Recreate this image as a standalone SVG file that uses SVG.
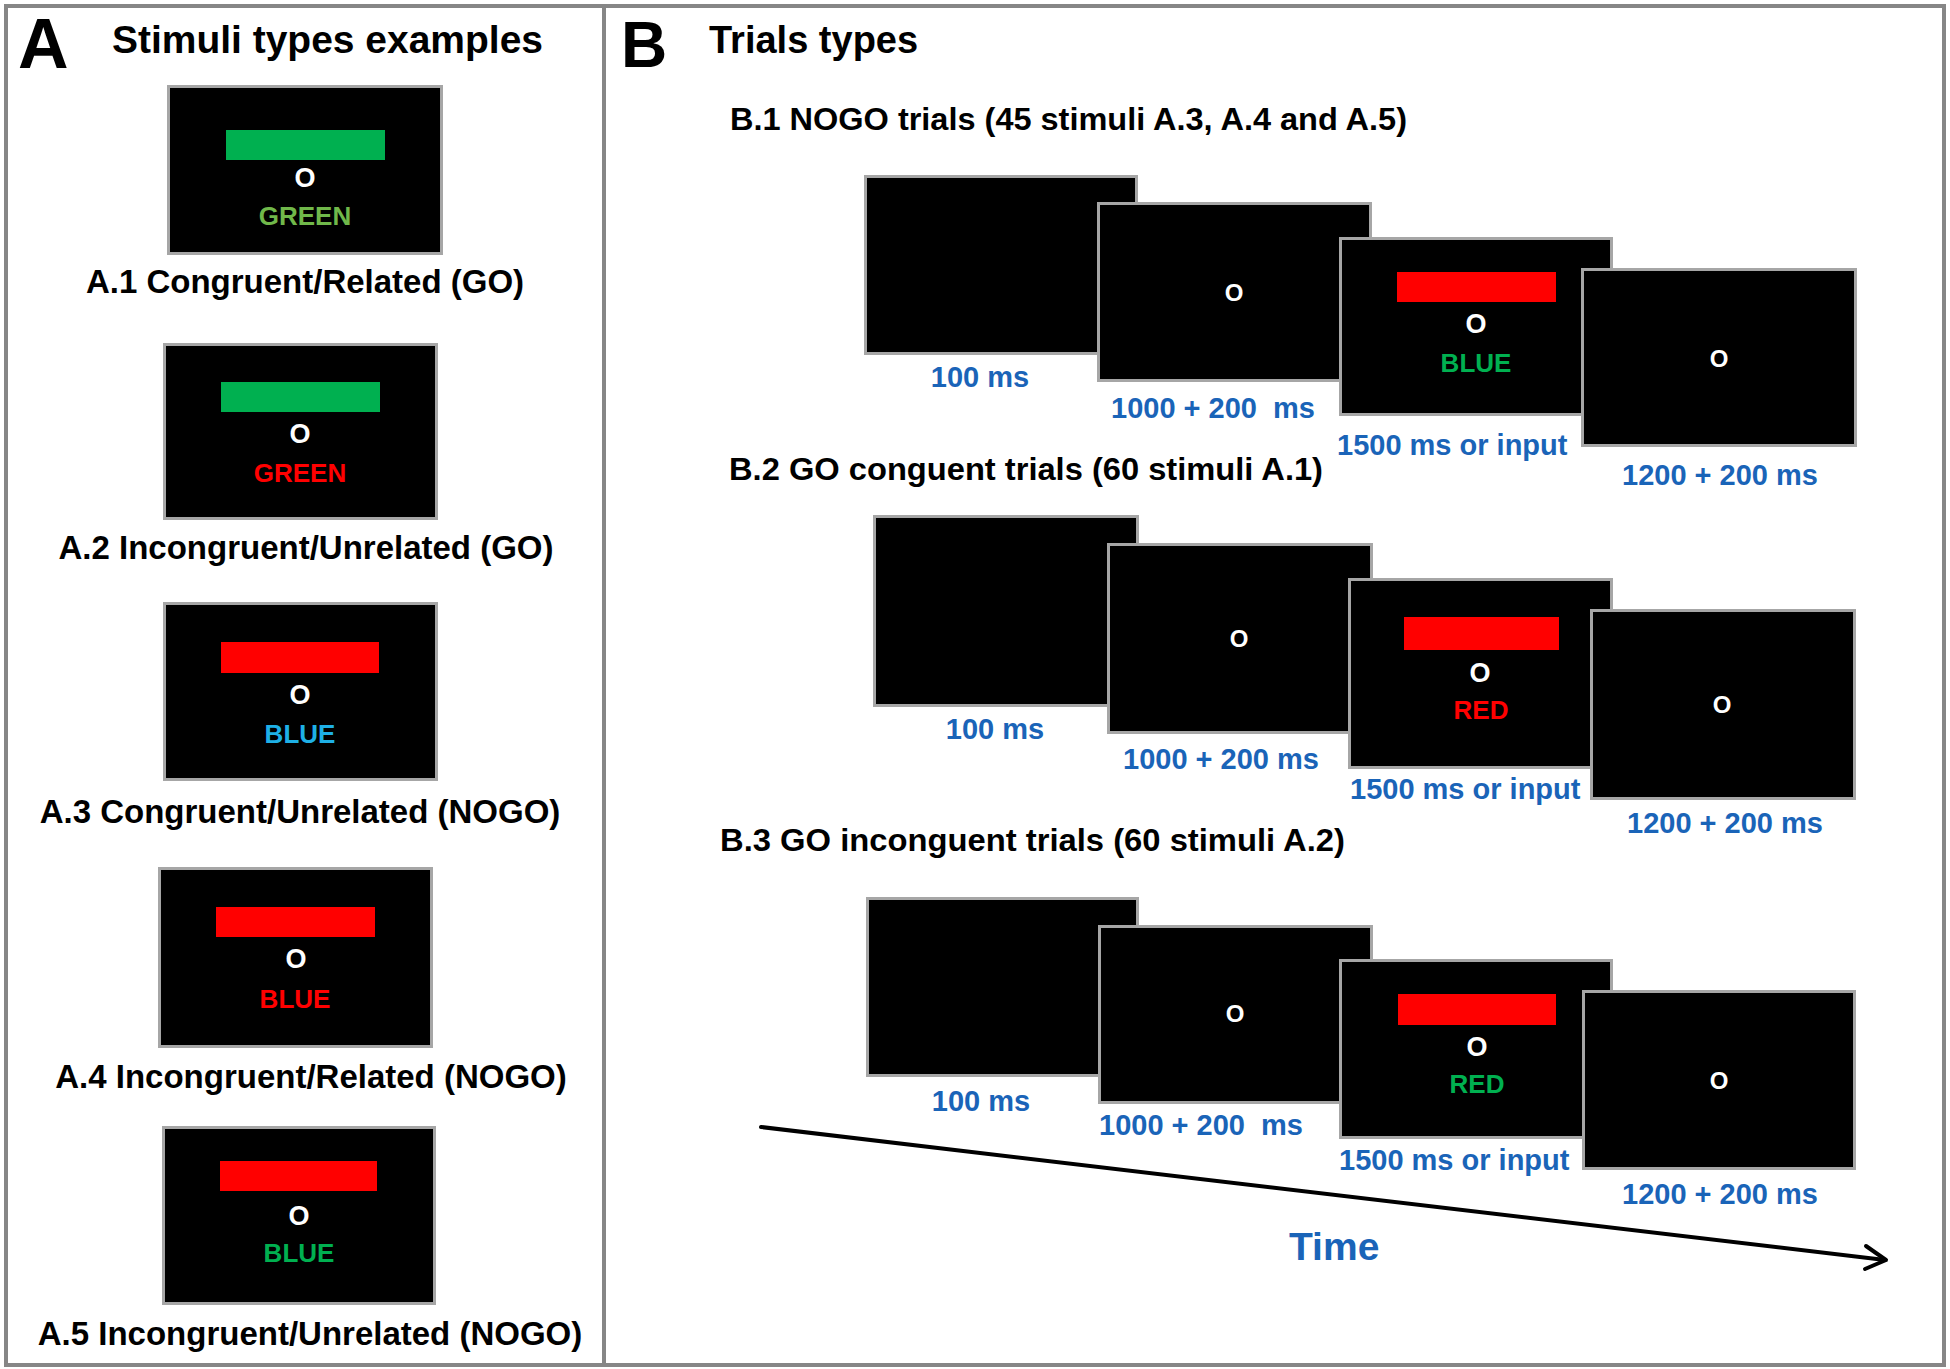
<svg xmlns="http://www.w3.org/2000/svg" width="1950" height="1369" viewBox="0 0 1950 1369">
<style>
text{font-family:"Liberation Sans",Arial,sans-serif;font-weight:bold}
.scr{fill:#000;stroke:#a6a6a6;stroke-width:3}
.frame{fill:none;stroke:#868686;stroke-width:4}
.big{font-size:70px;fill:#000}
.title{font-size:38px;fill:#000}
.alab{font-size:33px;fill:#000;text-anchor:middle}
.blab{font-size:32px;fill:#000}
.dur{font-size:29px;fill:#1a64b8;white-space:pre}
.o{font-size:27px;fill:#fff;text-anchor:middle}
.os{font-size:24px;fill:#fff;text-anchor:middle}
.w{font-size:26px;text-anchor:middle}
.gbar{fill:#00b050}
.rbar{fill:#ff0000}
.arrow{fill:none;stroke:#000;stroke-width:4;stroke-linecap:round;stroke-linejoin:round}
</style>
<rect x="0" y="0" width="1950" height="1369" fill="#fff"/>
<rect class="frame" x="6" y="6" width="1938" height="1359"/>
<line class="frame" x1="604" y1="6" x2="604" y2="1365"/>

<g id="panelA-title">
<text class="big" x="18" y="68">A</text>
<text class="title" x="112" y="53" textLength="431" lengthAdjust="spacingAndGlyphs">Stimuli types examples</text>
</g>

<g id="A1">
<rect class="scr" x="168.5" y="86.5" width="273" height="167"/>
<rect class="gbar" x="226" y="130" width="159" height="30"/>
<text class="o" x="305" y="187">O</text>
<text class="w" x="305" y="225" fill="#70b84a">GREEN</text>
<text class="alab" x="305" y="293">A.1 Congruent/Related (GO)</text>
</g>
<g id="A2">
<rect class="scr" x="164.5" y="344.5" width="272" height="174"/>
<rect class="gbar" x="221" y="382" width="159" height="30"/>
<text class="o" x="300" y="443">O</text>
<text class="w" x="300" y="482" fill="#ff0000">GREEN</text>
<text class="alab" x="306" y="559">A.2 Incongruent/Unrelated (GO)</text>
</g>
<g id="A3">
<rect class="scr" x="164.5" y="603.5" width="272" height="176"/>
<rect class="rbar" x="221" y="642" width="158" height="31"/>
<text class="o" x="300" y="704">O</text>
<text class="w" x="300" y="743" fill="#1eb0e6">BLUE</text>
<text class="alab" x="300" y="823">A.3 Congruent/Unrelated (NOGO)</text>
</g>
<g id="A4">
<rect class="scr" x="159.5" y="868.5" width="272" height="178"/>
<rect class="rbar" x="216" y="907" width="159" height="30"/>
<text class="o" x="296" y="968">O</text>
<text class="w" x="295" y="1008" fill="#ff0000">BLUE</text>
<text class="alab" x="311" y="1088">A.4 Incongruent/Related (NOGO)</text>
</g>
<g id="A5">
<rect class="scr" x="163.5" y="1127.5" width="271" height="176"/>
<rect class="rbar" x="220" y="1161" width="157" height="30"/>
<text class="o" x="299" y="1225">O</text>
<text class="w" x="299" y="1262" fill="#00b050">BLUE</text>
<text class="alab" x="310" y="1345">A.5 Incongruent/Unrelated (NOGO)</text>
</g>

<g id="panelB-title">
<text class="big" x="621" y="67" style="font-size:64px">B</text>
<text class="title" x="709" y="53">Trials types</text>
</g>

<g id="B1">
<text class="blab" x="730" y="130" textLength="677" lengthAdjust="spacingAndGlyphs">B.1 NOGO trials (45 stimuli A.3, A.4 and A.5)</text>
<g id="B1-blank"><rect class="scr" x="865.5" y="176.5" width="271" height="177"/>
<text class="dur" x="980" y="387" text-anchor="middle">100 ms</text></g>
<g id="B1-fix"><rect class="scr" x="1098.5" y="203.5" width="272" height="177"/>
<text class="os" x="1234" y="301">O</text>
<text class="dur" x="1111" y="418">1000 + 200  ms</text></g>
<g id="B1-stim"><rect class="scr" x="1340.5" y="238.5" width="271" height="176"/>
<rect class="rbar" x="1397" y="272" width="159" height="30"/>
<text class="o" x="1476" y="333">O</text>
<text class="w" x="1476" y="372" fill="#00b050">BLUE</text>
<text class="dur" x="1337" y="455">1500 ms or input</text></g>
<g id="B1-iti"><rect class="scr" x="1582.5" y="269.5" width="273" height="176"/>
<text class="os" x="1719" y="367">O</text>
<text class="dur" x="1622" y="485">1200 + 200 ms</text></g>
</g>

<g id="B2">
<text class="blab" x="729" y="480" textLength="594" lengthAdjust="spacingAndGlyphs">B.2 GO conguent trials (60 stimuli A.1)</text>
<g id="B2-blank"><rect class="scr" x="874.5" y="516.5" width="263" height="189"/>
<text class="dur" x="995" y="739" text-anchor="middle">100 ms</text></g>
<g id="B2-fix"><rect class="scr" x="1108.5" y="544.5" width="263" height="188"/>
<text class="os" x="1239" y="647">O</text>
<text class="dur" x="1123" y="769">1000 + 200 ms</text></g>
<g id="B2-stim"><rect class="scr" x="1349.5" y="579.5" width="262" height="188"/>
<rect class="rbar" x="1404" y="617" width="155" height="33"/>
<text class="o" x="1480" y="682">O</text>
<text class="w" x="1481" y="719" fill="#ff0000">RED</text>
<text class="dur" x="1350" y="799">1500 ms or input</text></g>
<g id="B2-iti"><rect class="scr" x="1591.5" y="610.5" width="263" height="188"/>
<text class="os" x="1722" y="713">O</text>
<text class="dur" x="1627" y="833">1200 + 200 ms</text></g>
</g>

<g id="B3">
<text class="blab" x="720" y="851" textLength="625" lengthAdjust="spacingAndGlyphs">B.3 GO inconguent trials (60 stimuli A.2)</text>
<g id="B3-blank"><rect class="scr" x="867.5" y="898.5" width="270" height="177"/>
<text class="dur" x="981" y="1111" text-anchor="middle">100 ms</text></g>
<g id="B3-fix"><rect class="scr" x="1099.5" y="926.5" width="272" height="176"/>
<text class="os" x="1235" y="1022">O</text>
<text class="dur" x="1099" y="1135">1000 + 200  ms</text></g>
<g id="B3-stim"><rect class="scr" x="1340.5" y="960.5" width="271" height="177"/>
<rect class="rbar" x="1398" y="994" width="158" height="31"/>
<text class="o" x="1477" y="1056">O</text>
<text class="w" x="1477" y="1093" fill="#00b050">RED</text>
<text class="dur" x="1339" y="1170">1500 ms or input</text></g>
<g id="B3-iti"><rect class="scr" x="1583.5" y="991.5" width="271" height="177"/>
<text class="os" x="1719" y="1089">O</text>
<text class="dur" x="1622" y="1204">1200 + 200 ms</text></g>
</g>

<g id="connectors">
<line class="arrow" x1="761" y1="1127" x2="1885" y2="1260"/>
<polyline class="arrow" points="1866,1246 1886,1260 1865,1269"/>
<text x="1289" y="1260" style="font-size:39px;fill:#1a64b8">Time</text>
</g>
</svg>
